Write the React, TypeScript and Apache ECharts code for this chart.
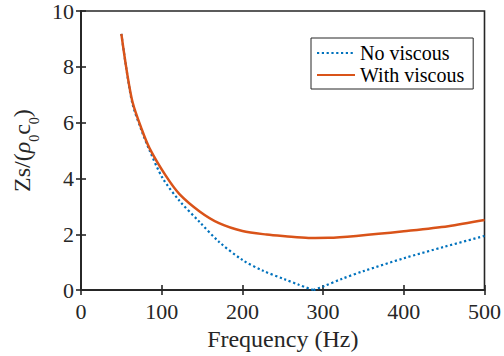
import React, { useEffect, useRef } from 'react';
import * as echarts from 'echarts';

const freqNoViscousLow = [50, 57, 64, 75, 85, 101, 122, 147, 171, 200, 225, 253, 270, 288];
const zsNoViscousLow = [9.18, 7.78, 6.65, 5.72, 5.0, 4.02, 3.2, 2.44, 1.73, 1.08, 0.7, 0.38, 0.19, 0.0];
const freqNoViscousHigh = [288, 300, 323, 350, 400, 450, 500];
const zsNoViscousHigh = [0.0, 0.13, 0.4, 0.68, 1.14, 1.55, 1.94];

const freqWithViscous = [50, 57, 64, 75, 85, 105, 122, 147, 171, 200, 230, 253, 282, 307, 344, 400, 455, 500];
const zsWithViscous = [9.18, 7.8, 6.72, 5.78, 5.08, 4.1, 3.44, 2.82, 2.4, 2.12, 1.99, 1.93, 1.87, 1.875, 1.95, 2.11, 2.29, 2.51];

const seriesNames = ['No viscous', 'With viscous'];
const xRange = { min: 0, max: 500, interval: 100 };
const yRange = { min: 0, max: 10, interval: 2 };

const FONT = 'Liberation Serif';
const AXIS_COLOR = '#262626';
const BLUE = '#0072BD';
const ORANGE = '#D95319';

const fontCss = ".zs-chart svg text { font-family: 'Liberation Serif', 'Times New Roman', serif !important; }";

export default function App() {
  const ref = useRef<HTMLDivElement>(null);

  useEffect(() => {
    if (!ref.current) return;
    const chart = echarts.init(ref.current, null, { renderer: 'svg' });

    const pairs = (xs: number[], ys: number[]) => xs.map((x, i) => [x, ys[i]]);

    const axisLine = { show: true, lineStyle: { color: AXIS_COLOR, width: 1.6 } };
    const axisTick = { show: true, inside: true, length: 5, lineStyle: { color: AXIS_COLOR, width: 1.6 } };

    const blueStyle = { color: BLUE, width: 2.2, type: [2.2, 2.6], cap: 'butt' };

    chart.setOption({
      animation: false,
      backgroundColor: '#ffffff',
      textStyle: { fontFamily: FONT },
      grid: {
        left: 81,
        right: 18,
        top: 11,
        bottom: 62,
        show: true,
        borderColor: AXIS_COLOR,
        borderWidth: 1.6,
        backgroundColor: 'transparent',
      },
      legend: {
        orient: 'vertical',
        left: 311,
        top: 38,
        padding: [5, 9, 4, 5],
        itemWidth: 38,
        itemHeight: 14,
        itemGap: 2,
        borderColor: AXIS_COLOR,
        borderWidth: 1,
        backgroundColor: '#ffffff',
        itemStyle: { opacity: 0 },
        textStyle: { fontFamily: FONT, fontSize: 20, color: '#000000', lineHeight: 20 },
        data: seriesNames,
      },
      xAxis: [
        {
          type: 'value',
          min: xRange.min,
          max: xRange.max,
          interval: xRange.interval,
          position: 'bottom',
          name: 'Frequency (Hz)',
          nameLocation: 'middle',
          nameGap: 30,
          nameTextStyle: { fontFamily: FONT, fontSize: 24, color: AXIS_COLOR },
          axisLine,
          axisTick,
          splitLine: { show: false },
          axisLabel: { fontFamily: FONT, fontSize: 22, color: AXIS_COLOR, margin: 10 },
        },
        {
          type: 'value',
          min: xRange.min,
          max: xRange.max,
          interval: xRange.interval,
          position: 'top',
          axisLine,
          axisTick,
          splitLine: { show: false },
          axisLabel: { show: false },
        },
      ],
      yAxis: [
        {
          type: 'value',
          min: yRange.min,
          max: yRange.max,
          interval: yRange.interval,
          position: 'left',
          name: '{n|Zs/(}{g|ρ}{s|0}{n|c}{s|0}{n|)}',
          nameLocation: 'middle',
          nameRotate: 90,
          nameGap: 37,
          nameTextStyle: {
            fontFamily: FONT,
            fontSize: 24,
            color: AXIS_COLOR,
            rich: {
              n: { fontFamily: FONT, fontSize: 24, lineHeight: 24, verticalAlign: 'top', color: AXIS_COLOR },
              g: { fontFamily: FONT, fontSize: 24, fontStyle: 'italic', lineHeight: 24, verticalAlign: 'top', color: AXIS_COLOR },
              s: { fontFamily: FONT, fontSize: 14, lineHeight: 31, verticalAlign: 'bottom', color: AXIS_COLOR },
            },
          },
          axisLine,
          axisTick,
          splitLine: { show: false },
          axisLabel: { fontFamily: FONT, fontSize: 22, color: AXIS_COLOR, margin: 7 },
        },
        {
          type: 'value',
          min: yRange.min,
          max: yRange.max,
          interval: yRange.interval,
          position: 'right',
          axisLine,
          axisTick,
          splitLine: { show: false },
          axisLabel: { show: false },
        },
      ],
      series: [
        {
          name: seriesNames[0],
          type: 'line',
          data: pairs(freqNoViscousLow, zsNoViscousLow),
          showSymbol: false,
          symbol: 'none',
          smooth: 0.3,
          lineStyle: blueStyle,
          itemStyle: { color: BLUE },
          z: 2,
        },
        {
          name: seriesNames[0],
          type: 'line',
          data: pairs(freqNoViscousHigh, zsNoViscousHigh),
          showSymbol: false,
          symbol: 'none',
          smooth: 0.3,
          lineStyle: blueStyle,
          itemStyle: { color: BLUE },
          z: 2,
        },
        {
          name: seriesNames[1],
          type: 'line',
          data: pairs(freqWithViscous, zsWithViscous),
          showSymbol: false,
          symbol: 'none',
          smooth: 0.3,
          lineStyle: { color: ORANGE, width: 2.5 },
          itemStyle: { color: ORANGE },
          z: 3,
        },
      ],
    });

    return () => chart.dispose();
  }, []);

  return (
    <div className="zs-chart" style={{ position: 'fixed', left: 0, top: 0, width: 504, height: 356, background: '#fff' }}>
      <style>{fontCss}</style>
      <div ref={ref} style={{ width: 504, height: 356 }} />
    </div>
  );
}
